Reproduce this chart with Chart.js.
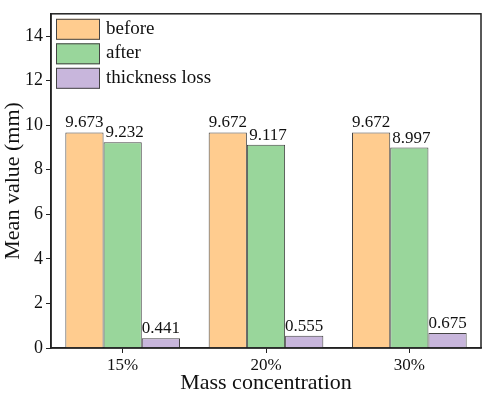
<!DOCTYPE html>
<html>
<head>
<meta charset="utf-8">
<script src="https://cdn.jsdelivr.net/npm/chart.js@4/dist/chart.umd.min.js"></script>
<style>
html,body{margin:0;padding:0;background:#fff;}
#wrap{width:484px;height:396px;}
</style>
</head>
<body>
<div id="wrap"><canvas id="c" width="484" height="396"></canvas></div>
<script>
const categories = ['15%', '20%', '30%'];
const beforeValues = [9.673, 9.672, 9.672];
const afterValues = [9.232, 9.117, 8.997];
const lossValues = [0.441, 0.555, 0.675];
const yTickValues = [0, 2, 4, 6, 8, 10, 12, 14];
const seriesNames = ['before', 'after', 'thickness loss'];

const FONT = '"Liberation Serif", "Times New Roman", serif';
const AXIS = '#222';
const BAR_EDGE = '#444';

const frame = {
  id: 'frame',
  afterDraw(chart) {
    const {ctx, chartArea: a} = chart;
    ctx.save();
    ctx.strokeStyle = AXIS;
    ctx.lineWidth = 1.5;
    ctx.strokeRect(a.left, a.top, a.right - a.left, a.bottom - a.top);
    ctx.restore();
  }
};

const valueLabels = {
  id: 'valueLabels',
  afterDatasetsDraw(chart) {
    const {ctx} = chart;
    ctx.save();
    ctx.font = '17px ' + FONT;
    ctx.fillStyle = '#111';
    ctx.textAlign = 'center';
    ctx.textBaseline = 'bottom';
    chart.data.datasets.forEach((ds, i) => {
      const meta = chart.getDatasetMeta(i);
      meta.data.forEach((el, j) => {
        ctx.fillText(ds.data[j].toFixed(3), el.x + (i === 1 ? 2 : 0), el.y - 1);
      });
    });
    ctx.restore();
  }
};

const boxLegend = {
  id: 'boxLegend',
  afterDraw(chart) {
    const {ctx, chartArea: a} = chart;
    ctx.save();
    ctx.font = '19px ' + FONT;
    ctx.textBaseline = 'middle';
    chart.data.datasets.forEach((ds, i) => {
      const x = a.left + 5, y = a.top + 5 + i * 24.5;
      ctx.fillStyle = ds.backgroundColor;
      ctx.fillRect(x, y, 44, 21);
      ctx.strokeStyle = BAR_EDGE;
      ctx.lineWidth = 1;
      ctx.strokeRect(x + 0.5, y + 0.5, 43, 20);
      ctx.fillStyle = '#111';
      ctx.fillText(ds.label, x + 50, y + 10);
    });
    ctx.restore();
  }
};

new Chart(document.getElementById('c'), {
  type: 'bar',
  data: {
    labels: categories,
    datasets: [
      {label: seriesNames[0], data: beforeValues, backgroundColor: '#FFCC8F', borderColor: BAR_EDGE, borderWidth: 1},
      {label: seriesNames[1], data: afterValues, backgroundColor: '#99D69B', borderColor: BAR_EDGE, borderWidth: 1},
      {label: seriesNames[2], data: lossValues, backgroundColor: '#C8B6DC', borderColor: BAR_EDGE, borderWidth: 1}
    ]
  },
  options: {
    responsive: false,
    animation: false,
    layout: {padding: {top: 3, right: 3, left: 0, bottom: 0}},
    datasets: {bar: {barPercentage: 1, categoryPercentage: 0.8}},
    plugins: {legend: {display: false}, tooltip: {enabled: false}},
    scales: {
      x: {
        grid: {display: true, drawOnChartArea: false, drawTicks: true, tickLength: 5, tickColor: AXIS, offset: false},
        border: {display: true, color: AXIS, width: 1.5},
        ticks: {color: '#111', font: {family: FONT, size: 17}, padding: 2},
        title: {display: true, text: 'Mass concentration', color: '#111', font: {family: FONT, size: 22}, padding: {top: -4, bottom: 0}},
        afterFit(s) { s.height = 48; }
      },
      y: {
        min: 0, max: 15,
        afterBuildTicks(s) { s.ticks = yTickValues.map(v => ({value: v})); },
        grid: {display: true, drawOnChartArea: false, drawTicks: true, tickLength: 5, tickColor: AXIS},
        border: {display: true, color: AXIS, width: 1.5},
        ticks: {color: '#111', font: {family: FONT, size: 18}, padding: 3},
        title: {display: true, text: 'Mean value (mm)', color: '#111', font: {family: FONT, size: 22}, padding: {top: 0, bottom: 0}},
        afterFit(s) { s.width = 51; }
      }
    }
  },
  plugins: [frame, valueLabels, boxLegend]
});
</script>
</body>
</html>
